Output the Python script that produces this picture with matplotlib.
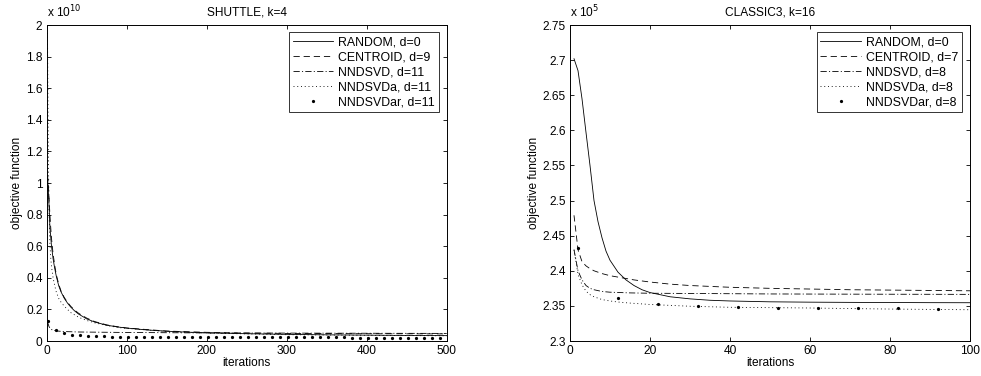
import matplotlib
matplotlib.use("Agg")
import matplotlib.pyplot as plt
from matplotlib.lines import Line2D

plt.rcParams['font.family'] = ['Liberation Sans', 'DejaVu Sans']
plt.rcParams['lines.scale_dashes'] = False

# ---------------- SHUTTLE, k=4 (values in units of 1e10) ----------------
sh_rand_x = [1, 2, 3, 4, 5, 6, 8, 10, 12, 15, 18, 22, 26, 30, 35, 40, 50, 60, 75, 90, 100,
             125, 150, 175, 200, 250, 300, 350, 400, 450, 500]
sh_rand_y = [1.04, 0.95, 0.85, 0.72, 0.66, 0.60, 0.52, 0.46, 0.41, 0.35, 0.31, 0.27, 0.24,
             0.215, 0.19, 0.17, 0.14, 0.12, 0.10, 0.088, 0.082, 0.07, 0.062, 0.056, 0.052,
             0.046, 0.042, 0.039, 0.037, 0.035, 0.034]
sh_cent_x = [1, 2, 3, 4, 5, 6, 8, 10, 12, 15, 18, 22, 26, 30, 35, 40, 50, 60, 75, 90, 100,
             150, 200, 250, 300, 400, 500]
sh_cent_y = [1.05, 1.0, 0.9, 0.8, 0.72, 0.65, 0.55, 0.48, 0.42, 0.36, 0.315, 0.275, 0.245,
             0.22, 0.195, 0.175, 0.145, 0.123, 0.102, 0.089, 0.082, 0.063, 0.055, 0.05,
             0.048, 0.046, 0.045]
sh_nnd_x = [1, 3, 5, 8, 12, 20, 40, 100, 200, 300, 400, 500]
sh_nnd_y = [0.12, 0.09, 0.075, 0.068, 0.064, 0.06, 0.057, 0.054, 0.051, 0.05, 0.049, 0.048]
sh_nnda_x = [1, 2, 3, 4, 5, 6, 8, 10, 12, 15, 18, 22, 26, 30, 35, 40, 50, 60, 75, 90, 100,
             150, 200, 300, 400, 500]
sh_nnda_y = [1.95, 1.2, 0.8, 0.62, 0.53, 0.47, 0.40, 0.35, 0.31, 0.27, 0.245, 0.22, 0.20,
             0.18, 0.165, 0.15, 0.13, 0.115, 0.098, 0.085, 0.08, 0.06, 0.05, 0.04, 0.036, 0.033]
sh_nndar_x = list(range(1, 500, 10))
sh_nndar_y = [0.127, 0.072, 0.050, 0.040, 0.035, 0.032, 0.030, 0.029, 0.028, 0.0275,
              0.027, 0.0268, 0.0265, 0.0262, 0.026, 0.0258, 0.0256, 0.0254, 0.0252, 0.025,
              0.0248, 0.0246, 0.0244, 0.0242, 0.024, 0.0238, 0.0236, 0.0234, 0.0232, 0.023,
              0.0229, 0.0228, 0.0227, 0.0226, 0.0225, 0.0224, 0.0223, 0.0222, 0.0221, 0.022,
              0.0219, 0.0218, 0.0217, 0.0216, 0.0215, 0.0214, 0.0213, 0.0212, 0.0211, 0.021]
sh_labels = ['RANDOM, d=0', 'CENTROID, d=9', 'NNDSVD, d=11', 'NNDSVDa, d=11', 'NNDSVDar, d=11']
sh_xticks = [0, 100, 200, 300, 400, 500]
sh_yticks = [0, 0.2, 0.4, 0.6, 0.8, 1.0, 1.2, 1.4, 1.6, 1.8, 2.0]
sh_yticklabels = ['0', '0.2', '0.4', '0.6', '0.8', '1', '1.2', '1.4', '1.6', '1.8', '2']

# ---------------- CLASSIC3, k=16 (values in units of 1e5) ----------------
cl_rand_x = [1, 2, 3, 4, 5, 6, 7, 8, 9, 10, 12, 14, 16, 18, 20, 25, 30, 35, 40, 50, 60, 70,
             80, 90, 100]
cl_rand_y = [2.702, 2.685, 2.645, 2.597, 2.55, 2.50, 2.47, 2.447, 2.428, 2.415, 2.398,
             2.387, 2.379, 2.373, 2.369, 2.363, 2.360, 2.358, 2.357, 2.3558, 2.3553, 2.355,
             2.3548, 2.3546, 2.3545]
cl_cent_x = [1, 2, 3, 4, 5, 6, 8, 10, 13, 16, 20, 25, 30, 40, 50, 60, 70, 80, 90, 100]
cl_cent_y = [2.479, 2.43, 2.413, 2.407, 2.403, 2.400, 2.396, 2.393, 2.390, 2.387, 2.384,
             2.381, 2.379, 2.3765, 2.375, 2.374, 2.373, 2.3725, 2.372, 2.3715]
cl_nnd_x = [1, 2, 3, 4, 5, 6, 8, 10, 15, 20, 30, 50, 70, 100]
cl_nnd_y = [2.43, 2.40, 2.387, 2.379, 2.375, 2.373, 2.3705, 2.3695, 2.3685, 2.368, 2.3677,
            2.367, 2.3667, 2.3664]
cl_nnda_x = [1, 2, 3, 4, 5, 6, 8, 10, 12, 15, 20, 30, 40, 50, 60, 70, 80, 90, 100]
cl_nnda_y = [2.43, 2.395, 2.38, 2.371, 2.366, 2.363, 2.359, 2.357, 2.3555, 2.354, 2.352,
             2.3495, 2.348, 2.3475, 2.347, 2.3462, 2.3455, 2.345, 2.3445]
cl_nndar_x = [2, 12, 22, 32, 42, 52, 62, 72, 82, 92]
cl_nndar_y = [2.432, 2.3607, 2.3526, 2.350, 2.349, 2.3473, 2.347, 2.3465, 2.3465, 2.346]
cl_labels = ['RANDOM, d=0', 'CENTROID, d=7', 'NNDSVD, d=8', 'NNDSVDa, d=8', 'NNDSVDar, d=8']
cl_xticks = [0, 20, 40, 60, 80, 100]
cl_yticks = [2.3, 2.35, 2.4, 2.45, 2.5, 2.55, 2.6, 2.65, 2.7, 2.75]
cl_yticklabels = ['2.3', '2.35', '2.4', '2.45', '2.5', '2.55', '2.6', '2.65', '2.7', '2.75']

W, H = 981, 376
fig = plt.figure(figsize=(W / 100, H / 100), dpi=100)

LW = 0.6
styles = [
    dict(linestyle='-', color='black', lw=LW),
    dict(linestyle=(0, (4.5, 2.8)), color='black', lw=LW),
    dict(linestyle=(0, (4.5, 1.6, 0.8, 1.6)), color='black', lw=LW),
    dict(linestyle=(0, (0.7, 2.0)), color='black', lw=LW),
]
FS = 8.6
LFS = 8.9


def make_panel(rect, series, dots, labels, xlim, ylim, xticks, yticks, yticklabels,
               title, expo):
    ax = fig.add_axes(rect)
    for (xs, ys), st in zip(series, styles):
        ax.plot(xs, ys, **st)
    ax.plot(dots[0], dots[1], linestyle='none', marker='.', color='black', markersize=2.6)
    ax.set_xlim(*xlim)
    ax.set_ylim(*ylim)
    ax.set_xticks(xticks)
    ax.set_yticks(yticks)
    ax.set_yticklabels(yticklabels)
    ax.tick_params(direction='in', top=True, right=True, length=2.6, width=0.6,
                   labelsize=FS, pad=3)
    for s in ax.spines.values():
        s.set_linewidth(0.7)
    ax.set_title(title, fontsize=FS, pad=7)
    ax.set_xlabel('iterations', fontsize=FS, labelpad=0)
    ax.set_ylabel('objective function', fontsize=FS, labelpad=2)
    ax.text(0.0, 1.014, 'x 10$^{%d}$' % expo, transform=ax.transAxes, fontsize=FS,
            ha='left', va='bottom')
    handles = [Line2D([], [], **st) for st in styles]
    handles.append(Line2D([], [], linestyle='none', marker='.', color='black',
                          markersize=2.6))
    leg = ax.legend(handles, labels, loc='upper right',
                    bbox_to_anchor=(1 - 8.0 / 400, 1 - 7.3 / 316), borderaxespad=0,
                    fontsize=LFS, frameon=True, fancybox=False, handlelength=3.3,
                    handletextpad=0.4, labelspacing=0.25, borderpad=0.3)
    leg.get_frame().set_edgecolor('black')
    leg.get_frame().set_linewidth(0.7)
    return ax


axw = 400 / W
axh = 316 / H
axb = 35 / H

make_panel([46.7 / W, axb, axw, axh],
           [(sh_rand_x, sh_rand_y), (sh_cent_x, sh_cent_y), (sh_nnd_x, sh_nnd_y),
            (sh_nnda_x, sh_nnda_y)],
           (sh_nndar_x, sh_nndar_y), sh_labels, (0, 500), (0, 2),
           sh_xticks, sh_yticks, sh_yticklabels, 'SHUTTLE, k=4', 10)

make_panel([570 / W, axb, axw, axh],
           [(cl_rand_x, cl_rand_y), (cl_cent_x, cl_cent_y), (cl_nnd_x, cl_nnd_y),
            (cl_nnda_x, cl_nnda_y)],
           (cl_nndar_x, cl_nndar_y), cl_labels, (0, 100), (2.3, 2.75),
           cl_xticks, cl_yticks, cl_yticklabels, 'CLASSIC3, k=16', 5)

fig.savefig('out.png', dpi=100)
